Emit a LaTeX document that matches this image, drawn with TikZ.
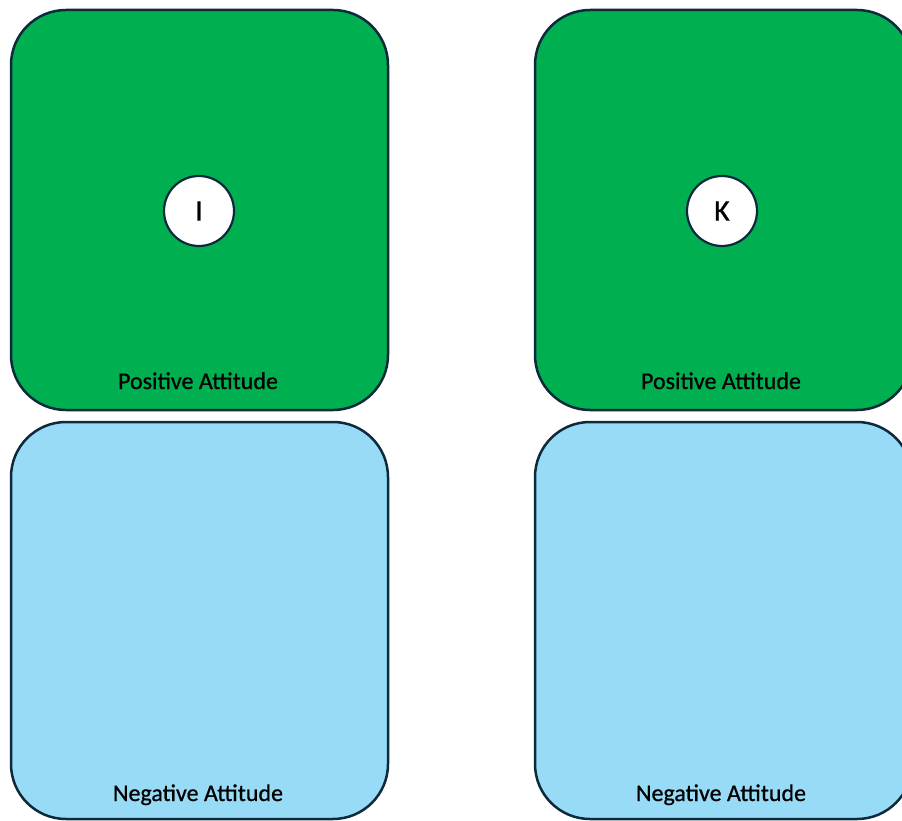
\documentclass[tikz,border=0pt]{standalone}
\usepackage{fontspec}
\setmainfont{Carlito}
\newfontfamily\labelfont[FakeBold=0.7]{Carlito}
\definecolor{posgreen}{HTML}{00B050}
\definecolor{negblue}{HTML}{97DBF7}
\definecolor{edge}{HTML}{0D2A3C}
\begin{document}
\begin{tikzpicture}[x=1pt,y=-1pt,
  panel/.style={draw=edge, line width=2.5pt, rounded corners=55pt},
  pospanel/.style={panel, fill=posgreen},
  negpanel/.style={panel, fill=negblue},
  caption/.style={font=\labelfont\fontsize{24}{28}\selectfont, text=black, anchor=base},
  person/.style={circle, draw=edge, line width=2.2pt, fill=white, minimum size=70pt, inner sep=0pt, font=\labelfont\fontsize{30}{34}\selectfont}]
\useasboundingbox (0,0) rectangle (902,821);
\begin{scope}
\clip (0,0) rectangle (902,821);
% left column
\draw[pospanel] (11,10) rectangle (388,410);
\draw[negpanel] (11,422) rectangle (388,819);
% right column
\draw[pospanel] (535,10) rectangle (912,410);
\draw[negpanel] (535,422) rectangle (912,819);
\end{scope}
\node[person] (pi) at (199,211) {I};
\node[person] (pk) at (722,211) {K};
\node[caption] (lp) at (198,389) {Positive Attitude};
\node[caption] (ln) at (198,801) {Negative Attitude};
\node[caption] (rp) at (721,389) {Positive Attitude};
\node[caption] (rn) at (721,801) {Negative Attitude};
\end{tikzpicture}
\end{document}
